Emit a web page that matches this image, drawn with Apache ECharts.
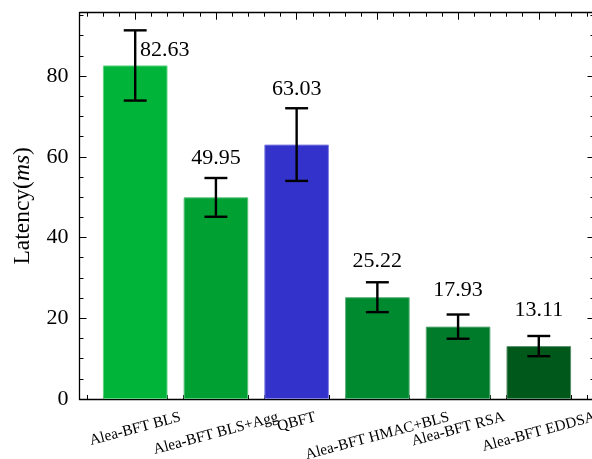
<!DOCTYPE html>
<html>
<head>
<meta charset="utf-8">
<script src="https://cdn.jsdelivr.net/npm/echarts@6/dist/echarts.min.js"></script>
<style>
  html, body { margin: 0; padding: 0; background: #fff; }
  #chart { width: 592px; height: 459px; }
</style>
</head>
<body>
<div id="chart"></div>
<script>
// Mean latency per protocol variant (ms) and the error-bar half widths
const categories = ['Alea-BFT BLS', 'Alea-BFT BLS+Agg', 'QBFT', 'Alea-BFT HMAC+BLS', 'Alea-BFT RSA', 'Alea-BFT EDDSA'];
const latencyMs = [82.63, 49.95, 63.03, 25.22, 17.93, 13.11];
const latencyErr = [8.7, 4.8, 9.0, 3.7, 3.0, 2.5];
const yTickLabels = [0, 20, 40, 60, 80];

const barColors = ['#00b43a', '#00a032', '#3333cc', '#008a2f', '#007b29', '#00581b'];
const barEdges = ['#5fd27f', '#5cc37a', '#8080e0', '#5cb279', '#5ca776', '#5c8f6b'];

const W = 592, H = 459;
const SERIF = '"Liberation Serif", "Times New Roman", serif';

// Axes box in pixels and the data limits it spans
const plot = { left: 79.5, right: 594.5, top: 12.7, bottom: 399 };
const xLim = [-0.69, 5.69];
const yLim = [0, 95.7];
const px = v => plot.left + (v - xLim[0]) / (xLim[1] - xLim[0]) * (plot.right - plot.left);
const gridFor = (a, b) => ({
  left: px(a), right: W - px(b), top: plot.top, bottom: H - plot.bottom,
  containLabel: false, outerBoundsMode: 'none'
});

const black = '#000';
const spine = { show: true, onZero: false, lineStyle: { color: black, width: 1.3 } };
const noLine = { show: false, onZero: false };
const majorTick = { show: true, inside: true, length: 7, lineStyle: { color: black, width: 1 } };
const minorTick = { show: true, inside: true, length: 4, lineStyle: { color: black, width: 1 } };

// Rotated category labels: shift each one so the tops of their rotated boxes line up
const LBL_FS = 15.3, LBL_ROT = 15, LBL_MARGIN = 20, LBL_TOP = 412;
const measureCtx = document.createElement('canvas').getContext('2d');
measureCtx.font = LBL_FS + 'px "Liberation Serif"';
const rad = LBL_ROT * Math.PI / 180;
const capH = 0.66 * LBL_FS;
const labelRich = {};
categories.forEach((c, i) => {
  const w = measureCtx.measureText(c).width;
  const centerY = LBL_TOP + (w * Math.sin(rad) + capH * Math.cos(rad)) / 2;
  const d = Math.max(0, centerY - (plot.bottom + LBL_MARGIN));
  labelRich['c' + i] = {
    fontSize: LBL_FS, fontFamily: SERIF, color: black,
    padding: [2 * d * Math.cos(rad), 2 * d * Math.sin(rad), 0, 0]
  };
});

const hiddenY = (g) => ({ gridIndex: g, type: 'value', min: yLim[0], max: yLim[1], show: false });

const yMajor = (pos, labels) => ({
  gridIndex: 0, type: 'value', position: pos, min: yLim[0], max: yLim[1], interval: 20,
  axisLine: spine, axisTick: majorTick, splitLine: { show: false },
  axisLabel: {
    show: labels, margin: 11, fontSize: 22, fontFamily: SERIF, color: black,
    formatter: v => (yTickLabels.includes(v) ? String(v) : '')
  }
});
const yMinor = (pos) => ({
  gridIndex: 0, type: 'value', position: pos, min: yLim[0], max: yLim[1], interval: 5,
  axisLine: noLine, axisTick: minorTick, axisLabel: { show: false }, splitLine: { show: false }
});

const LABEL_RISE = 7.1;      // label baseline above the bar value (data units)
const LABEL_CLEAR = 3;       // minimum clearance above an error-bar cap (data units)
const LABEL_FS = 22;
const NAME_FS = 23.5;

const option = {
  backgroundColor: '#fff',
  animation: false,
  grid: [gridFor(xLim[0], xLim[1]), gridFor(-0.6, 5.6), gridFor(-0.5, 5.5)],
  xAxis: [
    { gridIndex: 0, type: 'value', min: 0, max: 1, position: 'bottom', axisLine: spine,
      axisTick: { show: false }, axisLabel: { show: false }, splitLine: { show: false } },
    { gridIndex: 0, type: 'value', min: 0, max: 1, position: 'top', axisLine: spine,
      axisTick: { show: false }, axisLabel: { show: false }, splitLine: { show: false } },
    { gridIndex: 1, type: 'value', min: -0.6, max: 5.6, interval: 0.2, position: 'bottom',
      axisLine: noLine, axisTick: minorTick, axisLabel: { show: false }, splitLine: { show: false } },
    { gridIndex: 1, type: 'value', min: -0.6, max: 5.6, interval: 0.2, position: 'top',
      axisLine: noLine, axisTick: minorTick, axisLabel: { show: false }, splitLine: { show: false } },
    { gridIndex: 2, type: 'category', data: categories, position: 'bottom',
      axisLine: noLine, axisTick: Object.assign({ alignWithLabel: true, interval: 0 }, majorTick),
      splitLine: { show: false },
      axisLabel: {
        interval: 0, rotate: LBL_ROT, margin: LBL_MARGIN, align: 'center', verticalAlign: 'middle',
        hideOverlap: false, fontSize: LBL_FS, fontFamily: SERIF, color: black,
        formatter: (val, idx) => '{c' + idx + '|' + val + '}',
        rich: labelRich
      } },
    { gridIndex: 2, type: 'category', data: categories, position: 'top',
      axisLine: noLine, axisTick: Object.assign({ alignWithLabel: true, interval: 0 }, majorTick),
      axisLabel: { show: false }, splitLine: { show: false } }
  ],
  yAxis: [
    Object.assign(yMajor('left', true), {
      name: '{n|Latency(}{i|ms}{n|)}', nameLocation: 'middle', nameGap: 45, nameRotate: 90,
      nameTextStyle: {
        fontSize: NAME_FS, fontFamily: SERIF, color: black,
        rich: {
          n: { fontSize: NAME_FS, fontFamily: SERIF, color: black },
          i: { fontSize: NAME_FS, fontFamily: SERIF, color: black, fontStyle: 'italic' }
        }
      }
    }),
    yMajor('right', false),
    yMinor('left'),
    yMinor('right'),
    hiddenY(1),
    hiddenY(2)
  ],
  series: [
    {
      type: 'bar', xAxisIndex: 4, yAxisIndex: 5, barWidth: '80%',
      data: latencyMs.map((v, i) => ({
        value: v, itemStyle: { color: barColors[i], borderColor: barEdges[i], borderWidth: 1 }
      }))
    },
    {
      type: 'custom', xAxisIndex: 4, yAxisIndex: 5, clip: false, z: 5,
      data: latencyMs.map((v, i) => [i, v, latencyErr[i]]),
      renderItem: (params, api) => {
        const i = api.value(0), v = api.value(1), e = api.value(2);
        const top = api.coord([i, v + e]);
        const bot = api.coord([i, v - e]);
        const half = api.size([1, 0])[0] * 0.142;
        const ls = { stroke: black, lineWidth: 2.4 };
        const children = [
          { type: 'line', shape: { x1: top[0], y1: top[1], x2: bot[0], y2: bot[1] }, style: ls },
          { type: 'line', shape: { x1: top[0] - half, y1: top[1], x2: top[0] + half, y2: top[1] }, style: ls },
          { type: 'line', shape: { x1: bot[0] - half, y1: bot[1], x2: bot[0] + half, y2: bot[1] }, style: ls }
        ];
        // value label: above the bar, lifted clear of a tall error bar,
        // or set beside the error bar when there is no room above it
        const pxPerUnit = api.size([0, 1])[1];
        const textUnits = LABEL_FS * 0.75 / pxPerUnit;
        let base = v + LABEL_RISE;
        if (v + e + LABEL_CLEAR > base) base = v + e + LABEL_CLEAR;
        let tx = top[0], align = 'center';
        if (base + textUnits > yLim[1]) {
          base = v + 1.9;
          tx = top[0] + 4.7;
          align = 'left';
        }
        const baseY = api.coord([i, base])[1];
        children.push({
          type: 'text', x: tx, y: baseY - LABEL_FS * 0.337,
          style: {
            text: v.toFixed(2), fill: black, fontSize: LABEL_FS, fontFamily: SERIF,
            align: align, verticalAlign: 'middle'
          }
        });
        return { type: 'group', children: children };
      }
    }
  ]
};

const chart = echarts.init(document.getElementById('chart'), null, { renderer: 'canvas', width: W, height: H });
chart.setOption(option);
</script>
</body>
</html>
